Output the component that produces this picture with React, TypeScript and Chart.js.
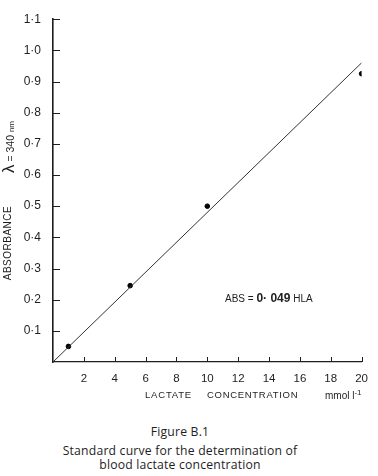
import React, { useEffect, useRef } from "react";
import { Chart, registerables } from "chart.js";

Chart.register(...registerables);

// Data
const concentrations = [1, 5, 10, 20];
const absorbances = [0.05, 0.245, 0.5, 0.925];

// Fitted standard line (ABS = 0.049 × HLA, drawn through origin)
const fitX = [0, 20];
const fitY = [0, 0.96];

const xTickValues = [2, 4, 6, 8, 10, 12, 14, 16, 18, 20];
const xTickLabels = ["2", "4", "6", "8", "10", "12", "14", "16", "18", "20"];
const yTickValues = [0.1, 0.2, 0.3, 0.4, 0.5, 0.6, 0.7, 0.8, 0.9, 1.0, 1.1];
const yTickLabels = ["0·1", "0·2", "0·3", "0·4", "0·5", "0·6", "0·7", "0·8", "0·9", "1·0", "1·1"];

const INK = "#1e1e1e";

const inwardTicks = {
  id: "inwardTicks",
  afterDraw(chart: any) {
    const { ctx, chartArea, scales } = chart;
    ctx.save();
    ctx.strokeStyle = INK;
    ctx.lineWidth = 1;
    ctx.beginPath();
    scales.x.ticks.forEach((t: any) => {
      const px = Math.round(scales.x.getPixelForValue(t.value)) + 0.5;
      ctx.moveTo(px, chartArea.bottom);
      ctx.lineTo(px, chartArea.bottom - 5);
    });
    scales.y.ticks.forEach((t: any) => {
      const py = Math.round(scales.y.getPixelForValue(t.value)) + 0.5;
      ctx.moveTo(chartArea.left, py);
      ctx.lineTo(chartArea.left + 7, py);
    });
    ctx.stroke();
    ctx.restore();
  },
};

export default function App() {
  const ref = useRef<HTMLCanvasElement | null>(null);

  useEffect(() => {
    document.body.style.margin = "0";
    const canvas = ref.current;
    if (!canvas) return;
    const chart = new Chart(canvas, {
      type: "scatter",
      data: {
        datasets: [
          {
            type: "line",
            data: fitX.map((x, i) => ({ x, y: fitY[i] })),
            borderColor: "#333",
            borderWidth: 1,
            pointRadius: 0,
            fill: false,
          } as any,
          {
            type: "scatter",
            data: concentrations.map((x, i) => ({ x, y: absorbances[i] })),
            backgroundColor: "#000",
            borderColor: "#000",
            pointRadius: 2.3,
          },
        ],
      },
      options: {
        animation: false,
        responsive: false,
        maintainAspectRatio: false,
        layout: { padding: { top: 19, right: 15, left: 0, bottom: 0 } },
        plugins: { legend: { display: false }, tooltip: { enabled: false } },
        scales: {
          x: {
            type: "linear",
            min: 0,
            max: 20,
            afterBuildTicks: (s: any) => {
              s.ticks = xTickValues.map((v) => ({ value: v }));
            },
            afterFit: (s: any) => {
              s.height = 48;
            },
            ticks: {
              autoSkip: false,
              maxRotation: 0,
              padding: 10,
              color: INK,
              font: { family: "Liberation Sans", size: 11.5 },
              callback: (_v: any, i: number) => xTickLabels[i],
            },
            grid: { display: false, drawTicks: false },
            border: { display: true, color: INK, width: 1.2 },
          },
          y: {
            type: "linear",
            min: 0,
            max: 1.1,
            afterBuildTicks: (s: any) => {
              s.ticks = yTickValues.map((v) => ({ value: v }));
            },
            afterFit: (s: any) => {
              s.width = 53;
            },
            ticks: {
              autoSkip: false,
              padding: 12,
              color: INK,
              font: { family: "Liberation Sans", size: 12 },
              callback: (_v: any, i: number) => yTickLabels[i],
            },
            grid: { display: false, drawTicks: false },
            border: { display: true, color: INK, width: 1.6 },
          },
        },
      },
      plugins: [inwardTicks],
    });
    return () => chart.destroy();
  }, []);

  const sans = "'Liberation Sans', Arial, sans-serif";
  const caption = "'Open Sans', sans-serif";

  return (
    <div style={{ position: "absolute", left: 0, top: 0, width: 378, height: 476, background: "#fff", color: INK }}>
      <canvas ref={ref} width={378} height={410} style={{ display: "block" }} />

      {/* Y axis title */}
      <div
        style={{
          position: "absolute", left: 8, top: 243, transform: "translate(-50%, -50%) rotate(-90deg)",
          fontFamily: sans, fontSize: 10, letterSpacing: 0.5, whiteSpace: "nowrap", lineHeight: 1,
        }}
      >
        ABSORBANCE
      </div>
      <div
        style={{
          position: "absolute", left: 8, top: 147, transform: "translate(-50%, -50%) rotate(-90deg)",
          fontFamily: sans, whiteSpace: "nowrap", lineHeight: 1,
        }}
      >
        <span style={{ fontSize: 17 }}>λ</span>
        <span style={{ fontSize: 10.5 }}> = 340 </span>
        <span style={{ fontSize: 8 }}>nm</span>
      </div>

      {/* X axis title */}
      <div style={{ position: "absolute", left: 145, top: 390, fontFamily: sans, fontSize: 9.5, letterSpacing: 0.8, whiteSpace: "nowrap", lineHeight: 1 }}>
        LACTATE
      </div>
      <div style={{ position: "absolute", left: 207, top: 390, fontFamily: sans, fontSize: 9.5, letterSpacing: 0.7, whiteSpace: "nowrap", lineHeight: 1 }}>
        CONCENTRATION
      </div>
      <div style={{ position: "absolute", left: 325, top: 389, fontFamily: sans, fontSize: 10, whiteSpace: "nowrap", lineHeight: 1 }}>
        mmol l<sup style={{ fontSize: 8, verticalAlign: 4 }}>-1</sup>
      </div>

      {/* Equation annotation */}
      <div style={{ position: "absolute", left: 225, top: 289, fontFamily: sans, whiteSpace: "nowrap", lineHeight: 1 }}>
        <span style={{ fontSize: 10 }}>ABS = </span>
        <span style={{ fontSize: 12, fontWeight: "bold" }}>0· 049</span>
        <span style={{ fontSize: 10 }}> HLA</span>
      </div>

      {/* Caption */}
      <div style={{ position: "absolute", left: 180, top: 425, transform: "translateX(-50%)", textAlign: "center", fontFamily: caption, fontSize: 12.2, letterSpacing: 0.2, lineHeight: "14px", whiteSpace: "nowrap" }}>
        <div style={{ marginBottom: 5 }}>Figure B.1</div>
        <div>Standard curve for the determination of</div>
        <div>blood lactate concentration</div>
      </div>
    </div>
  );
}
